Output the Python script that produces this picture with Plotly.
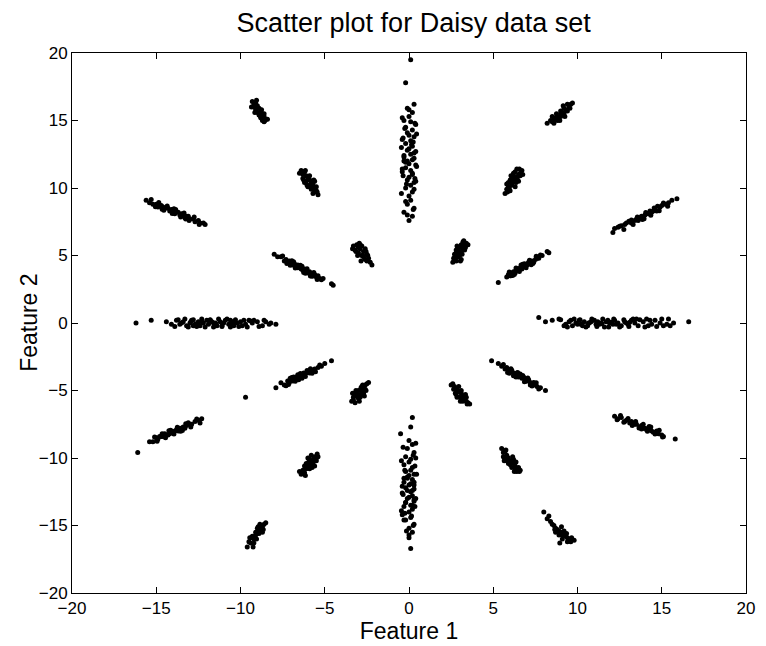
import plotly.graph_objects as go

# ---- data: 24 clusters of the Daisy data set (Feature 1, Feature 2) ----
top_x = [0.1,-0.2,0.3,-0.1,0.2,0.0,-0.3,0.1,0.4,-0.2,0.2,-0.1,0.0,0.3,-0.4,0.1,-0.2,0.2,0.0,-0.1,0.3,0.1,-0.3,0.2,-0.1,0.0,0.4,-0.2,0.1,-0.4,0.2,0.0,-0.1,0.3,0.1,-0.2,0.2,0.0,0.1,-0.1,0.3,-0.3,0.2,0.0,-0.1]
top_y = [19.5,17.8,16.2,15.9,15.6,15.3,15.0,14.9,14.7,14.5,14.3,14.1,13.9,13.8,13.6,13.5,13.3,13.1,12.9,12.8,12.6,12.5,12.3,12.1,12.0,11.8,11.7,11.5,11.3,11.2,11.0,10.8,10.6,10.4,10.2,10.0,9.7,9.4,9.1,8.8,8.5,8.2,7.9,7.6,8.0]
top2_x = [-0.4,0.35,-0.25,0.45,-0.35,0.25,-0.45,0.4,-0.3,0.3,-0.2,0.45,-0.4,0.2,-0.35,0.35,-0.15,0.3,-0.45,0.15,-0.3,0.4,0.0,-0.2,0.25]
top2_y = [15.2,14.8,14.4,14.0,13.7,13.4,13.0,12.7,12.4,12.2,11.9,11.6,11.4,11.1,10.9,10.7,10.3,9.9,9.6,13.2,12.0,10.5,15.8,9.0,8.4]

bot_x = [0.2,0.1,-0.5,0.0,0.2,-0.1,0.3,-0.2,0.1,0.0,-0.3,0.2,0.1,-0.2,0.3,0.0,-0.1,0.2,-0.3,0.1,0.0,-0.2,0.3,0.1,-0.4,0.2,0.0,-0.1,0.3,-0.2,0.1,-0.3,0.2,0.0,-0.4,0.1,-0.2,0.3,0.0,0.2,0.0,0.1,0.4,-0.1,0.3]
bot_y = [-7.0,-7.7,-8.2,-8.7,-9.0,-9.3,-9.6,-9.9,-10.1,-10.3,-10.5,-10.7,-10.9,-11.0,-11.2,-11.3,-11.5,-11.6,-11.8,-11.9,-12.0,-12.2,-12.3,-12.5,-12.6,-12.8,-12.9,-13.0,-13.2,-13.3,-13.5,-13.6,-13.8,-14.0,-14.2,-14.4,-14.6,-14.9,-15.2,-15.5,-15.9,-16.7,-10.0,-12.4,-13.1]
bot2_x = [0.4,-0.35,0.25,-0.45,0.35,-0.25,0.45,-0.3,0.3,-0.4,0.2,-0.35,0.4,-0.2,0.35,-0.45,0.15,-0.3,0.25,-0.15,0.0,0.3,-0.1,0.2,-0.25]
bot2_y = [-8.9,-9.2,-9.8,-10.2,-10.6,-10.9,-11.2,-11.5,-11.8,-12.1,-12.4,-12.7,-13.0,-13.3,-13.6,-13.9,-14.3,-14.6,-15.0,-15.4,-15.7,-12.0,-11.4,-13.5,-14.1]

left_x = [-16.2,-15.3,-14.4,-14.1,-13.8,-13.6,-13.4,-13.2,-13.0,-12.9,-12.7,-12.5,-12.4,-12.2,-12.0,-11.9,-11.7,-11.5,-11.4,-11.2,-11.0,-10.9,-10.7,-10.5,-10.4,-10.2,-10.0,-9.7,-9.5,-9.3,-9.0,-8.7,-8.5,-8.2,-7.9,-12.8,-11.8,-11.1,-10.6,-13.5,-12.3,-9.9,-9.2,-8.3,-11.6]
left_y = [0.0,0.2,0.1,-0.1,0.2,-0.1,0.1,-0.2,0.0,0.2,-0.1,0.1,-0.2,0.0,0.2,-0.1,0.1,0.0,-0.2,0.1,0.0,0.2,-0.1,0.1,-0.2,0.0,0.1,-0.1,0.2,0.0,0.1,-0.2,0.1,0.0,-0.1,-0.2,0.2,-0.2,0.2,0.0,0.1,-0.2,0.2,-0.1,0.0]
left2_x = [-13.9,-13.7,-13.3,-13.1,-12.8,-12.6,-12.3,-12.1,-11.8,-11.6,-11.3,-11.1,-10.8,-10.6,-10.3,-10.1,-9.8,-9.6,-9.4,-8.9,-8.6,-12.95,-11.45,-10.45,-12.55]
left2_y = [-0.25,0.25,0.3,-0.3,0.25,-0.25,0.3,-0.3,0.25,-0.3,0.3,-0.25,0.3,-0.3,0.25,-0.25,0.2,-0.3,0.15,-0.25,0.2,0.1,-0.05,0.0,0.0]

right_x = [7.7,8.1,8.5,8.9,9.3,9.5,9.7,9.9,10.1,10.2,10.4,10.6,10.7,10.9,11.1,11.2,11.4,11.6,11.7,11.9,12.1,12.2,12.4,12.6,12.8,13.0,13.2,13.4,13.6,13.9,14.1,14.4,14.6,14.9,15.1,15.4,15.7,16.6,9.6,10.3,10.8,11.3,11.8,12.3,12.9,13.5,14.2,15.3,10.0,11.0]
right_y = [0.4,0.1,0.2,0.3,-0.1,0.1,-0.2,0.0,0.2,-0.1,0.1,-0.2,0.0,0.2,-0.1,0.1,0.0,-0.3,0.1,0.0,-0.1,0.2,0.0,-0.2,0.1,-0.1,0.2,0.0,-0.2,0.1,0.3,-0.1,0.2,0.0,-0.2,0.3,0.0,0.1,0.2,-0.2,0.1,-0.1,0.2,-0.1,0.0,0.3,-0.2,-0.1,-0.1,0.2]
right2_x = [9.0,9.4,9.8,10.15,10.5,10.85,11.15,11.5,11.85,12.15,12.5,12.75,13.05,13.3,13.7,14.0,14.3,14.7,15.0,15.5,12.0,11.45,10.65,13.1,9.2]
right2_y = [0.25,-0.3,0.3,0.25,-0.3,0.3,-0.25,0.3,-0.3,0.3,-0.3,0.25,-0.25,0.3,0.25,-0.3,0.2,-0.25,0.3,-0.2,0.05,-0.05,0.0,0.05,-0.2]

in_ur_x = [2.6,2.7,2.8,2.7,2.9,3.0,2.8,3.1,3.0,3.2,2.9,3.1,3.3,3.2,3.4,3.0,3.3,3.5,2.8,3.1,2.75,2.95,3.15,3.35,2.85,3.05,3.25,2.65]
in_ur_y = [4.5,4.8,4.6,5.1,5.0,5.3,5.4,5.2,5.6,5.5,4.9,5.8,5.7,6.0,5.9,5.0,5.4,5.8,5.2,4.7,4.9,5.6,5.1,5.6,5.7,4.6,6.1,4.8]

in_ul_x = [-3.3,-3.1,-3.0,-2.9,-3.2,-2.8,-2.7,-3.0,-2.6,-2.8,-2.5,-2.4,-2.7,-2.3,-2.5,-2.2,-2.9,-2.6,-3.15,-2.95,-2.75,-2.55,-3.05,-2.85,-2.45,-3.35]
in_ul_y = [5.7,5.8,5.6,5.5,5.4,5.7,5.3,5.2,5.5,5.0,5.1,4.8,4.9,4.5,4.6,4.3,5.8,4.7,5.3,5.9,5.0,5.3,5.0,4.6,5.0,5.5]

in_ll_x = [-3.4,-3.3,-3.2,-3.1,-3.0,-3.2,-2.9,-2.8,-3.0,-2.7,-2.6,-2.8,-2.5,-2.4,-2.6,-3.3,-2.7,-2.9,-3.15,-2.95,-2.75,-2.55,-3.05,-2.85,-2.65,-3.35]
in_ll_y = [-5.8,-5.5,-5.9,-5.4,-5.6,-5.2,-5.3,-5.1,-5.0,-4.8,-4.9,-4.7,-4.5,-4.4,-4.6,-5.7,-5.2,-5.5,-5.0,-5.8,-4.6,-5.0,-5.3,-4.8,-5.4,-5.2]

in_lr_x = [2.5,2.7,2.8,2.9,3.0,2.8,3.1,3.2,3.0,3.3,3.4,3.2,3.5,3.6,3.3,2.6,3.1,3.4,2.75,2.95,3.15,3.35,2.65,3.05,3.45,2.85]
in_lr_y = [-4.6,-4.7,-4.9,-5.0,-5.1,-5.3,-5.2,-5.4,-5.5,-5.6,-5.5,-5.8,-5.9,-6.0,-5.7,-4.5,-5.0,-5.8,-5.2,-4.7,-5.7,-5.3,-4.9,-5.8,-6.0,-5.5]

mid_ul_x = [-8.0,-7.8,-7.6,-7.4,-7.3,-7.2,-7.1,-7.0,-6.9,-6.8,-6.7,-6.6,-6.5,-6.4,-6.3,-6.2,-6.1,-6.0,-5.9,-5.8,-5.7,-5.6,-5.5,-5.4,-5.3,-5.2,-5.1,-4.6,-4.5,-6.6,
            -7.5,-7.25,-6.95,-6.75,-6.45,-6.25,-6.05,-5.85,-5.65,-5.45,-7.05,-6.35,-5.75,-6.85,-6.15]
mid_ul_y = [5.1,4.9,4.9,4.6,4.7,4.5,4.6,4.4,4.3,4.4,4.2,4.1,4.2,4.0,3.9,4.0,3.8,3.7,3.8,3.6,3.5,3.6,3.4,3.5,3.3,3.2,3.3,2.9,2.8,4.3,
            4.97,4.4,4.61,4.08,4.28,3.75,4.01,3.48,3.75,3.22,4.27,4.21,3.46,4.54,3.68]

mid_ur_x = [5.3,5.8,5.9,6.0,6.1,6.2,6.3,6.35,6.4,6.5,6.6,6.7,6.8,6.9,7.0,7.1,7.2,7.3,7.4,7.5,7.6,7.7,7.9,8.2,8.3,6.45,6.75,7.05,
            5.95,6.15,6.35,6.55,6.75,6.95,7.15,7.35,7.55,6.25,6.65,7.25,7.8,6.05,6.85]
mid_ur_y = [3.0,3.4,3.6,3.5,3.7,3.8,3.7,3.9,4.0,3.9,4.1,4.0,4.2,4.3,4.3,4.5,4.4,4.6,4.5,4.7,4.8,4.8,5.0,5.3,5.2,4.0,4.2,4.4,
            3.77,3.52,4.07,3.81,4.36,4.1,4.65,4.4,4.94,3.59,4.29,4.32,5.03,3.5,4.38]

mid_ll_x = [-9.7,-7.9,-7.4,-7.2,-7.1,-7.0,-6.9,-6.8,-6.7,-6.6,-6.5,-6.4,-6.3,-6.2,-6.1,-6.0,-5.9,-5.8,-5.7,-5.6,-5.4,-5.2,-5.0,-4.6,-6.85,-6.55,-6.25,
            -7.6,-7.3,-7.05,-6.75,-6.45,-6.15,-5.85,-5.55,-5.3,-6.95,-6.35,-5.75,-7.15,-6.6,-6.05]
mid_ll_y = [-5.5,-4.8,-4.6,-4.3,-4.4,-4.2,-4.3,-4.1,-4.0,-4.1,-3.9,-4.0,-3.8,-3.9,-3.7,-3.6,-3.7,-3.5,-3.5,-3.4,-3.3,-3.2,-3.0,-2.8,-4.0,-4.2,-3.7,
            -4.42,-4.65,-4.1,-4.32,-3.74,-3.97,-3.39,-3.61,-3.12,-4.04,-4.09,-3.73,-4.56,-3.83,-3.51]

mid_lr_x = [4.9,5.3,5.5,5.7,5.8,5.9,6.0,6.1,6.2,6.3,6.4,6.5,6.6,6.7,6.8,6.9,7.0,7.1,7.2,7.3,7.4,7.5,7.6,7.8,8.1,6.25,6.55,6.95,
            5.6,5.85,6.05,6.35,6.6,6.85,7.05,7.3,7.55,6.2,6.75,7.2,5.95,6.45,7.7]
mid_lr_y = [-2.8,-3.0,-3.2,-3.4,-3.3,-3.5,-3.6,-3.5,-3.7,-3.8,-3.7,-4.0,-3.9,-4.1,-4.0,-4.2,-4.3,-4.2,-4.4,-4.5,-4.4,-4.6,-4.7,-4.8,-5.0,-3.9,-3.8,-4.3,
            -3.08,-3.66,-3.39,-4.0,-3.77,-4.35,-4.08,-4.66,-4.43,-3.9,-3.88,-4.59,-3.72,-3.67,-4.88]

c12_ul_x = [-6.4,-6.3,-6.2,-6.1,-6.3,-6.0,-5.9,-6.1,-5.8,-5.9,-5.7,-6.0,-5.6,-5.8,-5.5,-5.7,-5.4,-5.6,-5.5,-6.2,-5.9,-5.6,-6.5,-6.15,-5.95,-5.75,-5.45,-6.05,-5.65,-6.25]
c12_ul_y = [11.3,11.0,11.2,10.9,10.7,10.8,10.6,10.5,10.4,10.2,10.3,10.1,10.0,9.9,9.8,9.6,9.5,9.7,10.1,10.4,10.9,10.5,11.1,11.3,10.7,10.0,9.7,10.2,10.6,10.6]

c12_ur_x = [5.7,5.8,5.9,6.0,5.9,6.1,6.2,6.0,6.3,6.2,6.4,6.1,6.5,6.3,6.6,6.4,6.7,6.5,6.3,6.6,6.2,5.8,5.95,6.15,6.35,6.55,6.75,6.05,5.85,6.45]
c12_ur_y = [9.6,9.9,10.1,9.8,10.4,10.2,10.5,10.6,10.7,10.9,10.8,10.3,11.0,11.2,11.1,11.4,11.3,10.5,10.1,10.9,11.1,10.3,10.0,10.7,10.4,11.4,11.0,10.9,9.7,10.6]

c12_ll_x = [-6.4,-6.3,-6.2,-6.1,-6.2,-6.0,-5.9,-6.1,-5.8,-5.9,-5.7,-6.0,-5.6,-5.8,-5.5,-5.7,-5.4,-5.6,-5.5,-6.3,-5.9,-6.5,-6.15,-5.95,-5.75,-5.45,-6.05,-5.65]
c12_ll_y = [-11.2,-10.9,-11.1,-10.8,-10.6,-10.7,-10.5,-10.4,-10.3,-10.1,-10.2,-10.0,-9.9,-9.8,-10.0,-10.4,-9.9,-10.6,-10.2,-11.0,-10.8,-11.0,-11.3,-10.3,-10.7,-9.7,-10.5,-10.0]

c12_lr_x = [5.5,5.6,5.7,5.6,5.8,5.9,5.7,6.0,5.9,6.1,6.0,6.2,6.3,6.1,6.4,6.3,6.5,6.4,6.6,6.2,5.8,5.75,5.95,6.15,6.35,6.55,5.65,6.25]
c12_lr_y = [-9.3,-9.6,-9.5,-9.9,-9.8,-10.0,-10.1,-10.2,-10.4,-10.3,-10.5,-10.4,-10.6,-10.7,-10.8,-10.9,-10.7,-11.0,-10.9,-10.1,-10.2,-9.4,-10.3,-9.9,-10.3,-11.0,-10.2,-11.0]

c17_ul_x = [-9.3,-9.2,-9.1,-9.2,-9.0,-9.1,-8.9,-9.0,-8.8,-8.9,-8.7,-8.8,-8.6,-8.7,-8.5,-8.6,-8.4,-9.0,-8.8,-8.6,-9.35,-9.05,-8.85,-8.55,-8.75,-9.15]
c17_ul_y = [16.4,16.2,16.3,16.0,16.1,15.8,15.9,15.6,15.7,15.4,15.5,15.2,15.3,15.0,15.1,14.9,15.1,15.9,15.3,15.5,16.0,16.5,15.4,15.0,15.8,15.6]

c17_ur_x = [8.2,8.4,8.5,8.6,8.7,8.8,8.9,9.0,9.0,9.1,9.2,9.3,9.4,9.5,9.6,9.7,8.8,9.2,9.4,8.6,9.0,8.5,8.95,9.25,9.55,9.15,8.75]
c17_ur_y = [14.8,15.0,14.9,15.1,15.2,15.3,15.2,15.5,15.3,15.6,15.5,15.8,15.7,16.0,16.2,16.3,15.0,15.9,16.2,14.8,15.7,15.3,15.0,15.3,15.9,16.1,15.5]

c17_ll_x = [-9.6,-9.5,-9.4,-9.3,-9.2,-9.1,-9.0,-8.9,-8.8,-8.7,-8.6,-8.5,-9.3,-9.1,-8.9,-8.8,-9.0,-8.7,-9.2,-9.45,-9.25,-8.95,-8.65,-9.05,-8.85]
c17_ll_y = [-16.6,-16.2,-16.3,-15.9,-16.0,-15.7,-15.6,-15.4,-15.3,-15.1,-14.9,-14.8,-15.8,-15.5,-15.6,-15.0,-15.2,-15.5,-16.3,-15.9,-16.6,-15.1,-15.3,-16.0,-14.9]

c17_lr_x = [8.0,8.2,8.4,8.5,8.6,8.7,8.8,8.9,9.0,9.1,9.2,9.3,9.4,9.5,9.6,9.8,8.9,9.2,9.4,8.7,9.1,8.3,8.65,9.05,9.35,9.65,8.95]
c17_lr_y = [-14.0,-14.5,-14.7,-14.9,-15.0,-15.2,-15.3,-15.4,-15.5,-15.7,-15.6,-15.8,-15.9,-16.0,-16.2,-16.1,-15.7,-15.4,-16.2,-15.5,-16.0,-14.3,-15.3,-15.1,-15.6,-15.9,-16.3]

out_ul_x = [-15.6,-15.4,-15.2,-15.0,-14.9,-14.8,-14.6,-14.5,-14.3,-14.2,-14.0,-13.9,-13.7,-13.6,-13.4,-13.3,-13.1,-13.0,-12.8,-12.7,-12.5,-12.4,-12.2,-12.1,-14.7,-14.1,-13.5,-13.2,
            -15.3,-15.05,-14.85,-14.55,-14.35,-14.05,-13.85,-13.55,-13.35,-13.05,-12.75,-12.45,-14.65,-13.95,-13.25]
out_ul_y = [9.1,8.9,8.8,8.8,8.6,8.7,8.6,8.5,8.5,8.3,8.3,8.1,8.2,8.0,8.0,7.8,7.9,7.7,7.7,7.5,7.6,7.4,7.4,7.3,8.7,8.4,8.1,7.9,
            9.15,8.62,8.92,8.36,8.66,8.11,8.41,7.85,8.15,7.6,7.85,7.29,8.42,8.46,7.7]

out_ur_x = [12.1,12.2,12.4,12.6,12.8,12.9,13.1,13.2,13.4,13.5,13.6,13.8,13.9,14.0,14.2,14.3,14.4,14.6,14.7,14.9,15.0,15.2,15.4,15.6,15.9,13.7,14.1,14.5,
            12.5,12.75,13.05,13.3,13.55,13.85,14.05,14.35,14.55,14.85,15.1,15.35,13.2,13.95,14.75]
out_ur_y = [6.7,7.0,7.1,7.2,7.3,7.4,7.5,7.4,7.6,7.7,7.6,7.9,7.8,8.0,8.1,8.3,8.2,8.4,8.3,8.6,8.7,8.8,8.9,9.1,9.2,7.8,8.1,8.3,
            7.16,6.93,7.53,7.29,7.86,7.66,8.19,7.99,8.52,8.32,8.88,8.65,7.63,7.72,8.65]

out_ll_x = [-16.1,-15.4,-15.2,-15.0,-14.9,-14.8,-14.6,-14.5,-14.4,-14.2,-14.1,-14.0,-13.8,-13.7,-13.6,-13.4,-13.3,-13.2,-13.0,-12.9,-12.7,-12.5,-12.3,-14.7,-14.3,-13.9,-13.5,
            -15.1,-14.95,-14.65,-14.45,-14.25,-13.95,-13.75,-13.45,-13.25,-12.95,-12.6,-12.4,-14.15,-13.55,-13.1]
out_ll_y = [-9.6,-8.8,-8.8,-8.5,-8.6,-8.4,-8.4,-8.2,-8.3,-8.2,-8.0,-8.1,-7.9,-8.0,-7.8,-7.7,-7.8,-7.6,-7.5,-7.5,-7.3,-7.2,-7.1,-8.4,-8.3,-8.0,-7.8,
            -8.44,-8.76,-8.2,-8.5,-7.99,-8.23,-7.73,-7.97,-7.46,-7.7,-7.12,-7.41,-7.94,-8.02,-7.38]

out_lr_x = [12.2,12.4,12.6,12.8,12.9,13.1,13.2,13.4,13.5,13.7,13.8,14.0,14.1,14.3,14.4,14.5,14.7,14.8,15.0,15.1,15.8,13.3,13.9,14.6,14.2,
            12.55,12.75,13.0,13.25,13.45,13.65,13.9,14.15,14.35,14.6,14.85,15.05,13.8,14.25,12.35]
out_lr_y = [-6.9,-7.1,-7.0,-7.3,-7.2,-7.4,-7.3,-7.5,-7.5,-7.7,-7.6,-7.8,-7.9,-7.9,-8.0,-8.1,-8.0,-8.2,-8.3,-8.4,-8.6,-7.4,-7.8,-8.1,-7.8,
            -6.86,-7.36,-7.08,-7.59,-7.29,-7.78,-7.5,-8.02,-7.71,-8.23,-7.95,-8.44,-7.85,-7.66,-7.17]

tick_vals = [-20, -15, -10, -5, 0, 5, 10, 15, 20]
tick_text = ["\u221220", "\u221215", "\u221210", "\u22125", "0", "5", "10", "15", "20"]

clusters_x = [top_x, top2_x, bot_x, bot2_x, left_x, left2_x, right_x, right2_x,
              in_ur_x, in_ul_x, in_ll_x, in_lr_x,
              mid_ul_x, mid_ur_x, mid_ll_x, mid_lr_x, c12_ul_x, c12_ur_x, c12_ll_x, c12_lr_x,
              c17_ul_x, c17_ur_x, c17_ll_x, c17_lr_x, out_ul_x, out_ur_x, out_ll_x, out_lr_x]
clusters_y = [top_y, top2_y, bot_y, bot2_y, left_y, left2_y, right_y, right2_y,
              in_ur_y, in_ul_y, in_ll_y, in_lr_y,
              mid_ul_y, mid_ur_y, mid_ll_y, mid_lr_y, c12_ul_y, c12_ur_y, c12_ll_y, c12_lr_y,
              c17_ul_y, c17_ur_y, c17_ll_y, c17_lr_y, out_ul_y, out_ur_y, out_ll_y, out_lr_y]

all_x = [v for c in clusters_x for v in c]
all_y = [v for c in clusters_y for v in c]

FONT = "Liberation Sans, Arial, Helvetica, sans-serif"

fig = go.Figure()
fig.add_trace(go.Scatter(
    x=all_x, y=all_y, mode="markers",
    marker=dict(color="black", size=5, line=dict(width=0)),
    showlegend=False, hoverinfo="x+y",
))

axis_common = dict(
    showgrid=False, zeroline=False, showline=True, linecolor="black", linewidth=1,
    mirror="ticks", ticks="inside", ticklen=6, tickcolor="black", tickwidth=1,
    tickfont=dict(family=FONT, size=17, color="black"),
    tickvals=tick_vals, ticktext=tick_text,
)

fig.update_layout(
    width=766, height=646,
    margin=dict(l=72, r=11, t=53, b=53),
    paper_bgcolor="white", plot_bgcolor="white",
    title=dict(text="Scatter plot for Daisy data set", x=0.54, xanchor="center",
               y=0.965, yanchor="middle", yref="container",
               font=dict(family=FONT, size=27, color="black")),
    xaxis=dict(range=[-20, 20], title=dict(text="Feature 1", standoff=0,
               font=dict(family=FONT, size=23, color="black")), **axis_common),
    yaxis=dict(range=[-20, 20], **axis_common),
    annotations=[dict(text="Feature 2", textangle=-90, xref="paper", yref="paper",
                      x=-0.064, y=0.5, xanchor="center", yanchor="middle",
                      showarrow=False, font=dict(family=FONT, size=23, color="black"))],
)

fig.write_html("out.html")
